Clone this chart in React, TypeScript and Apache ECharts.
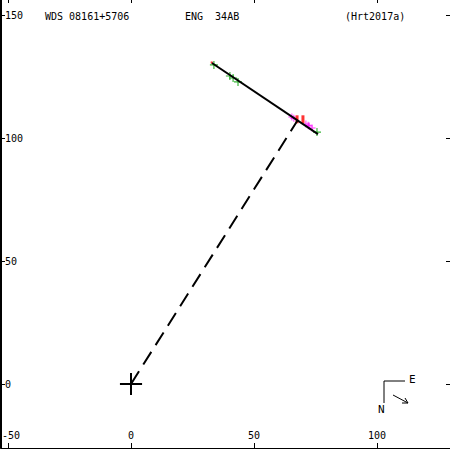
import React, { useEffect, useRef } from "react";
import * as echarts from "echarts";

// tick values
const xTicks = [-50, 0, 50, 100];
const yTicks = [0, 50, 100, 150];

// orbit arc (solid)
const orbitArc: [number, number][] = [
  [32.9, 130.5],
  [76.0, 101.6],
];
// line from primary to predicted position (dashed)
const connector: [number, number][] = [
  [0, 0],
  [67.8, 107.3],
];
// observations
const greenObs: [number, number][] = [
  [33.7, 129.7],
  [40.2, 125.2],
  [41.5, 124.4],
  [43.5, 122.8],
  [75.6, 102.4],
];
const magentaObs: [number, number][] = [
  [65.4, 108.5],
  [66.2, 108.0],
  [71.1, 105.7],
  [72.0, 105.2],
  [72.4, 104.9],
  [73.6, 104.1],
];
const redObs: [number, number][] = [
  [67.5, 107.6],
  [69.9, 107.6],
];
const redStart: [number, number][] = [[32.8, 130.7]];
// primary star cross
const crossH: [number, number][] = [
  [-4.5, 0],
  [4.5, 0],
];
const crossV: [number, number][] = [
  [0, -4.5],
  [0, 4.5],
];

const FONT = "DejaVu Sans Mono";

export default function App() {
  const ref = useRef<HTMLDivElement>(null);
  useEffect(() => {
    document.body.style.margin = "0";
    const chart = echarts.init(ref.current!, null, { renderer: "svg" });
    const ppu = 2.46;
    const x0 = 131;
    const y0 = 384;
    const xMin = (1 - x0) / ppu;
    const xMax = (450 - x0) / ppu;
    const yMax = y0 / ppu;
    const yMin = -(448 - y0) / ppu;
    const plus = "path://M3,0h1v7h-1zM0,3h7v1h-7z";
    chart.setOption({
      animation: false,
      backgroundColor: "#ffffff",
      grid: { left: 1, right: 0, top: 0, bottom: 2, containLabel: false, outerBoundsMode: "none" },
      xAxis: [
        {
          type: "value",
          min: xMin,
          max: xMax,
          position: "bottom",
          splitLine: { show: false },
          axisLine: { show: true, onZero: false, lineStyle: { color: "#000", width: 1 } },
          axisTick: { show: true, inside: true, length: 5, customValues: xTicks, lineStyle: { color: "#000" } },
          axisLabel: {
            inside: true,
            margin: 8,
            customValues: xTicks,
            color: "#000",
            fontFamily: FONT,
            fontSize: 10,
            formatter: (v: number) => (v < 0 ? `{m|${v}}` : `${v}`),
            rich: {
              m: { padding: [0, 0, 0, 6], fontFamily: FONT, fontSize: 10, color: "#000" },
            },
          },
        },
        {
          type: "value",
          min: xMin,
          max: xMax,
          position: "top",
          splitLine: { show: false },
          axisLine: { show: false, onZero: false },
          axisTick: { show: true, inside: true, length: 3, customValues: xTicks, lineStyle: { color: "#000" } },
          axisLabel: { show: false },
        },
      ],
      yAxis: [
        {
          type: "value",
          min: yMin,
          max: yMax,
          position: "left",
          splitLine: { show: false },
          axisLine: { show: true, onZero: false, lineStyle: { color: "#000", width: 2 } },
          axisTick: { show: true, inside: true, length: 4, customValues: yTicks, lineStyle: { color: "#000" } },
          axisLabel: {
            inside: true,
            margin: 4,
            customValues: yTicks,
            color: "#000",
            fontFamily: FONT,
            fontSize: 10,
          },
        },
        {
          type: "value",
          min: yMin,
          max: yMax,
          position: "right",
          splitLine: { show: false },
          axisLine: { show: false, onZero: false },
          axisTick: { show: true, inside: true, length: 4, customValues: yTicks, lineStyle: { color: "#000" } },
          axisLabel: { show: false },
        },
      ],
      series: [
        {
          type: "line",
          data: connector,
          symbol: "none",
          lineStyle: { color: "#000", width: 2, type: [15, 8] },
        },
        {
          type: "line",
          data: orbitArc,
          symbol: "none",
          lineStyle: { color: "#000", width: 2 },
        },
        {
          type: "line",
          data: crossH,
          symbol: "none",
          lineStyle: { color: "#000", width: 2 },
        },
        {
          type: "line",
          data: crossV,
          symbol: "none",
          lineStyle: { color: "#000", width: 2 },
        },
        {
          type: "scatter",
          data: greenObs,
          symbol: plus,
          symbolSize: 8,
          itemStyle: { color: "#00a000" },
        },
        {
          type: "scatter",
          data: magentaObs,
          symbol: plus,
          symbolSize: 7,
          itemStyle: { color: "#ff00ff" },
        },
        {
          type: "scatter",
          data: redObs,
          symbol: "rect",
          symbolSize: [3, 8],
          itemStyle: { color: "#ff0000" },
        },
        {
          type: "scatter",
          data: redStart,
          symbol: "rect",
          symbolSize: [2, 2],
          itemStyle: { color: "#ff0000" },
        },
      ],
      graphic: [
        { type: "text", left: 45, top: 11, style: { text: "WDS 08161+5706", fontFamily: FONT, fontSize: 10, fill: "#000" } },
        { type: "text", left: 185, top: 11, style: { text: "ENG  34AB", fontFamily: FONT, fontSize: 10, fill: "#000" } },
        { type: "text", left: 345, top: 11, style: { text: "(Hrt2017a)", fontFamily: FONT, fontSize: 10, fill: "#000" } },
        { type: "polyline", shape: { points: [[405, 381], [384, 381], [384, 403]] }, style: { stroke: "#000", lineWidth: 1, fill: "none" } },
        { type: "text", left: 409, top: 374, style: { text: "E", fontFamily: FONT, fontSize: 11, fill: "#000" } },
        { type: "text", left: 378, top: 404, style: { text: "N", fontFamily: FONT, fontSize: 11, fill: "#000" } },
        { type: "line", shape: { x1: 393, y1: 395, x2: 408, y2: 403 }, style: { stroke: "#000", lineWidth: 1 } },
        { type: "polyline", shape: { points: [[402, 403], [408, 403], [405, 398]] }, style: { stroke: "#000", lineWidth: 1, fill: "none" } },
      ],
    });
    return () => chart.dispose();
  }, []);
  return <div ref={ref} style={{ width: 450, height: 450 }} />;
}
